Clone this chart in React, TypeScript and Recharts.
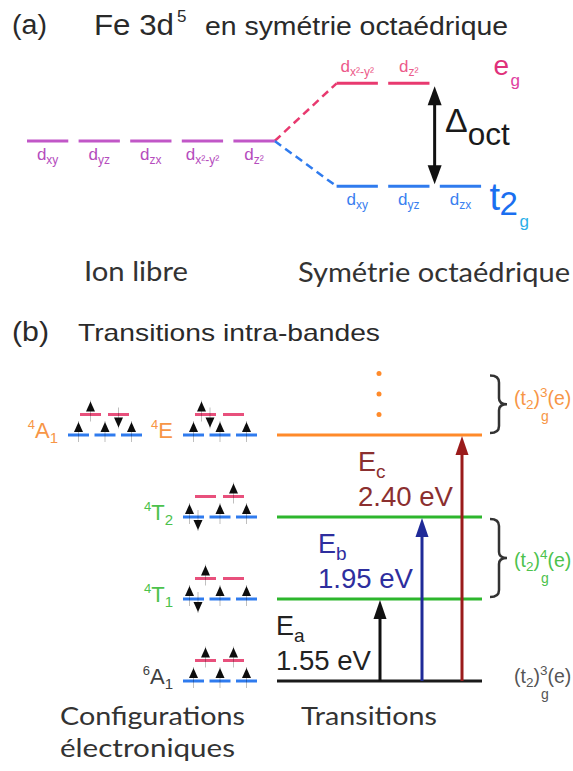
import React from "react";
import { ComposedChart, Scatter, XAxis, YAxis, ReferenceLine, ReferenceDot } from "recharts";

// ---------- (a) d levels of Fe 3d5, energies in units of Δoct ----------
const freeIonOrbitals = ["xy", "yz", "zx", "x²-y²", "z²"];
const egOrbitals = ["x²-y²", "z²"];
const t2gOrbitals = ["xy", "yz", "zx"];
const freeIonEnergy = 0;
const egEnergy = 0.56;
const t2gEnergy = -0.44;

// ---------- (b) terms, row on the transitions ladder (0 = ground state) ----------
const termSpin = ["6", "4", "4", "4", "4"];
const termSymbol = ["A", "T", "T", "A", "E"];
const termIndex = ["1", "1", "2", "1", ""];
const termRow = [0, 1, 2, 3, 3];
// occupation of t2g / eg orbitals: u = spin up, d = spin down
const termT2g = [
  ["u", "u", "u"],
  ["ud", "u", "u"],
  ["ud", "u", "u"],
  ["u", "u", "u"],
  ["u", "u", "u"],
];
const termEg = [
  ["u", "u"],
  ["u", ""],
  ["", "u"],
  ["u", "d"],
  ["ud", ""],
];

const ladderRows = [0, 1, 2, 3];
const transitionNames = ["a", "b", "c"];
const transitionEnergies = ["1.55", "1.95", "2.40"];
const transitionTargets = [1, 2, 3];
const higherStates = [3.25, 3.5, 3.75];

const bandRanges = [[0, 0], [1, 2], [3, 3.75]];
const bandT2gExp = ["3", "4", "3"];

// ---------- layout & styles ----------
const ARIAL = "'Liberation Sans', Arial, sans-serif";
const CALIBRI = "Lato, 'Open Sans', sans-serif";
const W = 573;

const PURPLE = "#c157c7";
const PINK = "#e8396f";
const BLUE = "#2f7bee";
const ORANGE = "#ff8a2a";
const GREEN = "#2db62d";

const SLOT_W = 0.8;
const CRYSTAL_SLOT = 6;
const SIDE_LABEL_SLOT = 9;
const DELTA_SLOT = 7.9;

const termColumn = [183, 183, 183, 68, 183];
const termColors = ["#404040", "#4cc24c", "#4cc24c", "#f79646", "#f79646"];
const EG_LIFT = 0.25;
const LADDER_X = [277, 482];
const ladderColors = ["#1a1a1a", GREEN, GREEN, ORANGE];
const arrowX = [380, 422, 462];
const arrowColors = ["#111111", "#1f2a98", "#9a1b1b"];
const labelColors = ["#222222", "#2e2e9e", "#8b2f2f"];
const bandColors = ["#555555", "#4cc24c", "#f79646"];
const bandLabelDy = [2, 9, 1];

const orbitalLabels = [
  ...freeIonOrbitals.map((o, i) => ({ x: i + SLOT_W / 2, y: freeIonEnergy, sub: o, side: "below", color: "#b54cbd" })),
  ...egOrbitals.map((o, i) => ({ x: CRYSTAL_SLOT + i + SLOT_W / 2, y: egEnergy, sub: o, side: "above", color: "#ec5a8a" })),
  ...t2gOrbitals.map((o, i) => ({ x: CRYSTAL_SLOT + i + SLOT_W / 2, y: t2gEnergy, sub: o, side: "below", color: "#3a80f0" })),
];

function spinsFor(xc: number, y: number, occ: string) {
  if (occ === "u") return [{ x: xc, y, dir: 1 }];
  if (occ === "d") return [{ x: xc, y, dir: -1 }];
  if (occ === "ud") return [{ x: xc - 4, y, dir: 1 }, { x: xc + 4.5, y, dir: -1 }];
  return [];
}

const spinArrows = termRow.flatMap((row, t) => [
  ...termT2g[t].flatMap((occ, k) => spinsFor(termColumn[t] + 26.5 * k + 10.5, row, occ)),
  ...termEg[t].flatMap((occ, k) => spinsFor(termColumn[t] + 12 + 28 * k + 10.5, row + EG_LIFT, occ)),
]);

function SpinArrow(props: any) {
  const { cx, cy, payload } = props;
  const s = payload.dir > 0 ? -1 : 1;
  const tip = cy + 13 * s;
  const base = cy + 3 * s;
  return (
    <g>
      <line x1={cx} x2={cx} y1={cy - 7 * s} y2={cy + 14 * s} stroke="rgba(0,0,0,0.25)" strokeWidth={1} />
      <polygon points={`${cx - 4.5},${base} ${cx + 4.5},${base} ${cx},${tip}`} fill="#0d0d0d" />
    </g>
  );
}

function OrbitalLabel(props: any) {
  const { cx, cy, payload } = props;
  const below = payload.side === "below";
  return (
    <text x={cx} y={cy + (below ? 19 : -11)} textAnchor="middle" fill={payload.color} fontFamily={ARIAL} fontSize={17}>
      d<tspan fontSize={12} dy={4}>{payload.sub}</tspan>
    </text>
  );
}

function DoubleArrow(p: any) {
  const { x1, y1, y2 } = p;
  const top = Math.min(y1, y2) + 3;
  const bot = Math.max(y1, y2) - 2;
  const hw = 7;
  const hl = 19;
  return (
    <g>
      <line x1={x1} x2={x1} y1={top + hl - 2} y2={bot - hl + 2} stroke="#111" strokeWidth={3} />
      <polygon points={`${x1 - hw},${top + hl} ${x1 + hw},${top + hl} ${x1},${top}`} fill="#111" />
      <polygon points={`${x1 - hw},${bot - hl} ${x1 + hw},${bot - hl} ${x1},${bot}`} fill="#111" />
    </g>
  );
}

const upArrow = (color: string) => (p: any) => {
  const { x1, y1, y2 } = p;
  const tip = Math.min(y1, y2) + 1;
  const bottom = Math.max(y1, y2);
  const hw = 6.5;
  const hl = 19;
  return (
    <g>
      <line x1={x1} x2={x1} y1={bottom} y2={tip + hl - 2} stroke={color} strokeWidth={3} />
      <polygon points={`${x1 - hw},${tip + hl} ${x1 + hw},${tip + hl} ${x1},${tip}`} fill={color} />
    </g>
  );
};

function Brace(p: any) {
  const { x1, y1, y2 } = p;
  const a = Math.min(y1, y2) + 2;
  const b = Math.max(y1, y2) - 2;
  const m = (a + b) / 2;
  const xv = x1 + 9;
  const xt = x1 + 17;
  const d = `M ${x1} ${a} Q ${xv} ${a} ${xv} ${a + 7} L ${xv} ${m - 6} Q ${xv} ${m} ${xt} ${m} Q ${xv} ${m} ${xv} ${m + 6} L ${xv} ${b - 7} Q ${xv} ${b} ${x1} ${b}`;
  return <path d={d} fill="none" stroke="#333" strokeWidth={2.5} />;
}

function ChartA() {
  const px0 = 27;
  const slot = 51.6;
  const e0 = 141;
  const scale = 103;
  return (
    <ComposedChart width={W} height={300} margin={{ top: 0, right: 0, bottom: 0, left: 0 }}>
      <XAxis type="number" dataKey="x" domain={[-px0 / slot, (W - px0) / slot]} allowDataOverflow hide />
      <YAxis type="number" dataKey="y" domain={[(e0 - 300) / scale, e0 / scale]} allowDataOverflow hide />
      <ReferenceLine
        segment={[{ x: freeIonOrbitals.length - 1 + SLOT_W, y: freeIonEnergy }, { x: CRYSTAL_SLOT, y: egEnergy }]}
        stroke={PINK} strokeWidth={2.5} strokeDasharray="8 5" ifOverflow="visible"
      />
      <ReferenceLine
        segment={[{ x: freeIonOrbitals.length - 1 + SLOT_W, y: freeIonEnergy }, { x: CRYSTAL_SLOT, y: t2gEnergy }]}
        stroke={BLUE} strokeWidth={2.5} strokeDasharray="8 5" ifOverflow="visible"
      />
      {freeIonOrbitals.map((o, i) => (
        <ReferenceLine key={"f" + o} segment={[{ x: i, y: freeIonEnergy }, { x: i + SLOT_W, y: freeIonEnergy }]}
          stroke={PURPLE} strokeWidth={3} ifOverflow="visible" />
      ))}
      {egOrbitals.map((o, i) => (
        <ReferenceLine key={"e" + o} segment={[{ x: CRYSTAL_SLOT + i, y: egEnergy }, { x: CRYSTAL_SLOT + i + SLOT_W, y: egEnergy }]}
          stroke={PINK} strokeWidth={3} ifOverflow="visible" />
      ))}
      {t2gOrbitals.map((o, i) => (
        <ReferenceLine key={"t" + o} segment={[{ x: CRYSTAL_SLOT + i, y: t2gEnergy }, { x: CRYSTAL_SLOT + i + SLOT_W, y: t2gEnergy }]}
          stroke={BLUE} strokeWidth={3} ifOverflow="visible" />
      ))}
      <ReferenceLine segment={[{ x: DELTA_SLOT, y: t2gEnergy }, { x: DELTA_SLOT, y: egEnergy }]} shape={DoubleArrow} ifOverflow="visible" />
      <Scatter data={orbitalLabels} shape={OrbitalLabel} isAnimationActive={false} />
      <ReferenceDot x={DELTA_SLOT + 0.2} y={(egEnergy + t2gEnergy) / 2} ifOverflow="visible"
        shape={(p: any) => (
          <text x={p.cx} y={p.cy} fill="#1a1a1a" fontFamily={ARIAL}>
            <tspan fontSize={34} dy={-3}>Δ</tspan>
            <tspan fontSize={32} dy={13} textLength={42} lengthAdjust="spacingAndGlyphs">oct</tspan>
          </text>
        )} />
      <ReferenceDot x={SIDE_LABEL_SLOT} y={egEnergy} ifOverflow="visible"
        shape={(p: any) => (
          <g fontFamily={ARIAL}>
            <text x={p.cx + 2} y={p.cy - 8} fontSize={28} fill="#e0307a">e</text>
            <text x={p.cx + 19} y={p.cy + 3} fontSize={17} fill="#e040a0">g</text>
          </g>
        )} />
      <ReferenceDot x={SIDE_LABEL_SLOT} y={t2gEnergy} ifOverflow="visible"
        shape={(p: any) => (
          <g fontFamily={ARIAL}>
            <text x={p.cx - 2} y={p.cy + 24} fontSize={38} fill="#1a6ff0">t</text>
            <text x={p.cx + 8} y={p.cy + 29} fontSize={33} fill="#1a6ff0">2</text>
            <text x={p.cx + 28} y={p.cy + 41} fontSize={17} fill="#2ab0e8">g</text>
          </g>
        )} />
    </ComposedChart>
  );
}

function ChartB() {
  const h = 471;
  const r0 = 381;
  const rowH = 82;
  return (
    <ComposedChart width={W} height={h} margin={{ top: 0, right: 0, bottom: 0, left: 0 }}>
      <XAxis type="number" dataKey="x" domain={[0, W]} allowDataOverflow hide />
      <YAxis type="number" dataKey="y" domain={[(r0 - h) / rowH, r0 / rowH]} allowDataOverflow hide />
      {termRow.map((row, t) => (
        <React.Fragment key={"cfg" + t}>
          {termT2g[t].map((_, k) => (
            <ReferenceLine key={"b" + k}
              segment={[{ x: termColumn[t] + 26.5 * k, y: row }, { x: termColumn[t] + 26.5 * k + 21, y: row }]}
              stroke={BLUE} strokeWidth={3} ifOverflow="visible" />
          ))}
          {termEg[t].map((_, k) => (
            <ReferenceLine key={"p" + k}
              segment={[{ x: termColumn[t] + 12 + 28 * k, y: row + EG_LIFT }, { x: termColumn[t] + 33 + 28 * k, y: row + EG_LIFT }]}
              stroke="#e8507c" strokeWidth={3} ifOverflow="visible" />
          ))}
          <ReferenceDot x={termColumn[t] - 10} y={row} ifOverflow="visible"
            shape={(p: any) => (
              <text x={p.cx} y={p.cy + 3} textAnchor="end" fill={termColors[t]} fontFamily={ARIAL} fontSize={22}>
                <tspan fontSize={13} dy={-9}>{termSpin[t]}</tspan>
                <tspan dy={9}>{termSymbol[t]}</tspan>
                {termIndex[t] ? <tspan fontSize={15} dy={5}>{termIndex[t]}</tspan> : null}
              </text>
            )} />
        </React.Fragment>
      ))}
      <Scatter data={spinArrows} shape={SpinArrow} isAnimationActive={false} />
      {ladderRows.map((row) => (
        <ReferenceLine key={"l" + row} segment={[{ x: LADDER_X[0], y: row }, { x: LADDER_X[1], y: row }]}
          stroke={ladderColors[row]} strokeWidth={3} ifOverflow="visible" />
      ))}
      {higherStates.map((r) => (
        <ReferenceDot key={"d" + r} x={379} y={r} r={2.5} fill={ORANGE} stroke="none" ifOverflow="visible" />
      ))}
      {transitionTargets.map((target, i) => (
        <React.Fragment key={"tr" + i}>
          <ReferenceLine segment={[{ x: arrowX[i], y: 0 }, { x: arrowX[i], y: target }]}
            shape={upArrow(arrowColors[i])} ifOverflow="visible" />
          <ReferenceDot x={arrowX[i] - 104} y={target} ifOverflow="visible"
            shape={(p: any) => (
              <g fontFamily={ARIAL} fill={labelColors[i]}>
                <text x={p.cx} y={p.cy + 36} fontSize={27}>
                  E<tspan fontSize={19} dy={7}>{transitionNames[i]}</tspan>
                </text>
                <text x={p.cx} y={p.cy + 71} fontSize={27} textLength={95} lengthAdjust="spacingAndGlyphs">
                  {transitionEnergies[i]} eV
                </text>
              </g>
            )} />
        </React.Fragment>
      ))}
      {bandRanges.map(([a, b], i) => (
        <React.Fragment key={"band" + i}>
          {b > a ? (
            <ReferenceLine segment={[{ x: 490, y: a }, { x: 490, y: b }]} shape={Brace} ifOverflow="visible" />
          ) : null}
          <ReferenceDot x={514} y={(a + b) / 2} ifOverflow="visible"
            shape={(p: any) => (
              <g fontFamily={ARIAL} fill={bandColors[i]}>
                <text x={p.cx} y={p.cy + bandLabelDy[i]} fontSize={19.5}>
                  (t<tspan fontSize={13.5} dy={4}>2</tspan>
                  <tspan dy={-4}>)</tspan>
                  <tspan fontSize={13.5} dy={-8}>{bandT2gExp[i]}</tspan>
                  <tspan dy={8}>(e)</tspan>
                </text>
                <text x={p.cx + 27} y={p.cy + bandLabelDy[i] + 16} fontSize={14}>g</text>
              </g>
            )} />
        </React.Fragment>
      ))}
    </ComposedChart>
  );
}

function Captions() {
  return (
    <svg width={W} height={771} style={{ position: "absolute", left: 0, top: 0, pointerEvents: "none" }}>
      <g fontFamily={ARIAL} fill="#2a2a2a">
        <text x={12} y={34} fontSize={27} textLength={35} lengthAdjust="spacingAndGlyphs">(a)</text>
        <text x={94} y={35} fontSize={30} textLength={80} lengthAdjust="spacingAndGlyphs">Fe 3d</text>
        <text x={177} y={22} fontSize={17}>5</text>
        <text x={205} y={35} fontSize={25} textLength={303} lengthAdjust="spacingAndGlyphs">en symétrie octaédrique</text>
        <text x={12} y={341} fontSize={27} textLength={37} lengthAdjust="spacingAndGlyphs">(b)</text>
        <text x={78} y={341} fontSize={24} textLength={302} lengthAdjust="spacingAndGlyphs">Transitions intra-bandes</text>
      </g>
      <g fontFamily={CALIBRI} fill="#333">
        <text x={84} y={281} fontSize={27} textLength={104} lengthAdjust="spacingAndGlyphs">Ion libre</text>
        <text x={298} y={282} fontSize={27} textLength={272} lengthAdjust="spacingAndGlyphs">Symétrie octaédrique</text>
        <text x={60} y={725} fontSize={25} textLength={185} lengthAdjust="spacingAndGlyphs">Configurations</text>
        <text x={60} y={757} fontSize={25} textLength={175} lengthAdjust="spacingAndGlyphs">électroniques</text>
        <text x={301} y={725} fontSize={25} textLength={136} lengthAdjust="spacingAndGlyphs">Transitions</text>
      </g>
    </svg>
  );
}

export default function App() {
  return (
    <div style={{ position: "absolute", left: 0, top: 0, width: W, height: 771, background: "#fff" }}>
      <div style={{ position: "absolute", left: 0, top: 0 }}>
        <ChartA />
      </div>
      <div style={{ position: "absolute", left: 0, top: 300 }}>
        <ChartB />
      </div>
      <Captions />
    </div>
  );
}
